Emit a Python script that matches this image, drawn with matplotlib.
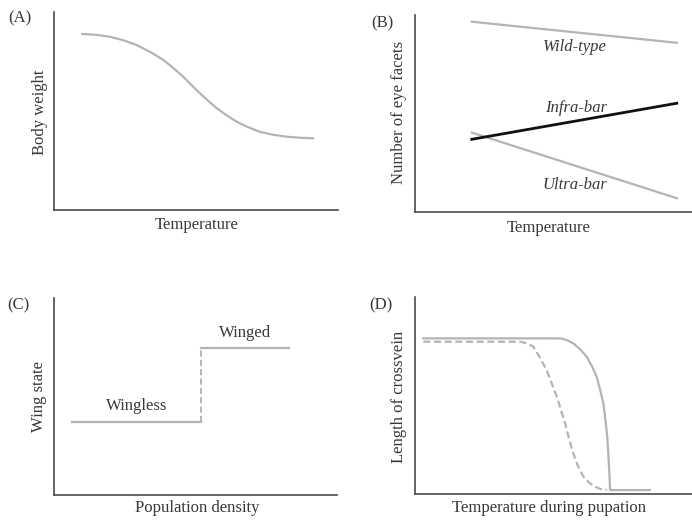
import matplotlib
matplotlib.use("Agg")
import matplotlib.pyplot as plt

W, H = 692, 520

plt.rcParams["font.family"] = ["Liberation Serif", "DejaVu Serif"]

# (A) body weight vs temperature, read in 0-100 panel units
a_temp = [9.8, 14.8, 19.7, 24.5, 29.1, 33.8, 38.5, 42.0, 45.5, 48.5, 51.4,
          54.4, 57.3, 60.8, 64.3, 68.4, 72.5, 77.2, 81.9, 86.6, 91.3]
a_weight = [88.9, 88.5, 87.5, 85.7, 83.3, 79.9, 75.8, 71.7, 67.3, 63.0, 58.9,
            55.0, 51.4, 47.8, 44.6, 41.8, 39.5, 38.0, 37.0, 36.5, 36.2]

# (B) eye facets vs temperature, straight lines (start, end)
b_temp = [20.5, 94.5]
b_wild = [96.6, 85.9]
b_infra = [36.9, 55.2]
b_ultra = [40.3, 7.0]

# (C) wing state vs population density
c_density_low = [6.3, 51.9]
c_wingless = [37.2, 37.2]
c_density_high = [51.9, 83.1]
c_winged = [74.5, 74.5]
c_switch = 51.9

# (D) crossvein length vs temperature during pupation
d_temp_solid = [3.0, 51.2, 53.0, 55.0, 57.1, 59.5, 62.0, 64.0, 65.6, 67.0,
                68.0, 68.8, 69.4, 69.8, 70.1, 70.3, 70.4, 84.8]
d_len_solid = [79.0, 79.0, 78.9, 78.0, 76.5, 73.6, 69.7, 64.5, 59.5, 52.0,
               46.0, 37.0, 29.1, 20.0, 12.2, 7.0, 2.0, 2.0]
d_temp_dash = [3.0, 37.9, 40.3, 42.7, 45.0, 47.5, 49.4, 51.2, 52.7, 54.2,
               55.6, 57.1, 58.9, 60.8, 62.8, 65.0, 67.0, 69.2]
d_len_dash = [77.3, 77.3, 76.6, 74.8, 69.5, 62.9, 56.0, 49.4, 42.5, 35.9,
              28.0, 20.7, 14.0, 8.8, 5.8, 3.7, 2.5, 2.0]

LINE = "#b4b4b4"
AXIS = "#4a4a4a"
TEXT = "#383838"
DASH = (0, (3.2, 1.6))


def add_panel(fig, left, top, right, bottom):
    ax = fig.add_axes([left / W, 1 - bottom / H, (right - left) / W, (bottom - top) / H])
    ax.set_xlim(0, 100)
    ax.set_ylim(0, 100)
    for side in ("top", "right"):
        ax.spines[side].set_visible(False)
    for side in ("left", "bottom"):
        ax.spines[side].set_color(AXIS)
        ax.spines[side].set_linewidth(1.2)
    ax.set_xticks([])
    ax.set_yticks([])
    ax.patch.set_alpha(0)
    return ax


def ftext(fig, x, y, s, **kw):
    kw.setdefault("color", TEXT)
    kw.setdefault("fontsize", 12)
    fig.text(x / W, 1 - y / H, s, **kw)


fig = plt.figure(figsize=(W / 100, H / 100), dpi=100)
fig.patch.set_facecolor("white")

# panel A
ax = add_panel(fig, 54, 12, 338, 210)
ax.plot(a_temp, a_weight, color=LINE, lw=1.6, solid_capstyle="round")
ftext(fig, 8, 18, "(A)", ha="left", va="center")
ftext(fig, 40, 112, "Body weight", rotation=90, ha="center", va="center")
ftext(fig, 197, 225, "Temperature", ha="center", va="center")

# panel B
ax = add_panel(fig, 415, 15, 692, 212)
ax.plot(b_temp, b_wild, color=LINE, lw=1.6)
ax.plot(b_temp, b_ultra, color=LINE, lw=1.6)
ax.plot(b_temp, b_infra, color="#111111", lw=2.0)
ax.text(57.8, 83.8, "Wild-type", style="italic", color=TEXT, fontsize=12, ha="center", va="center")
ax.text(58.1, 52.8, "Infra-bar", style="italic", color=TEXT, fontsize=12, ha="center", va="center")
ax.text(57.8, 13.7, "Ultra-bar", style="italic", color=TEXT, fontsize=12, ha="center", va="center")
ftext(fig, 371, 23, "(B)", ha="left", va="center")
ftext(fig, 399, 113, "Number of eye facets", rotation=90, ha="center", va="center")
ftext(fig, 549, 228, "Temperature", ha="center", va="center")

# panel C
ax = add_panel(fig, 54, 298, 337, 495)
ax.plot(c_density_low, c_wingless, color=LINE, lw=1.6)
ax.plot(c_density_high, c_winged, color=LINE, lw=1.6)
ax.plot([c_switch, c_switch], [c_wingless[-1], c_winged[0]], color=LINE, lw=1.4, ls=DASH)
ax.text(67.5, 82.2, "Winged", color=TEXT, fontsize=12, ha="center", va="center")
ax.text(29.2, 45.2, "Wingless", color=TEXT, fontsize=12, ha="center", va="center")
ftext(fig, 7, 305, "(C)", ha="left", va="center")
ftext(fig, 39, 397, "Wing state", rotation=90, ha="center", va="center")
ftext(fig, 197, 508, "Population density", ha="center", va="center")

# panel D
ax = add_panel(fig, 415, 297, 692, 494)
ax.plot(d_temp_solid, d_len_solid, color=LINE, lw=1.6)
ax.plot(d_temp_dash, d_len_dash, color=LINE, lw=1.6, ls=DASH)
ftext(fig, 369, 305, "(D)", ha="left", va="center")
ftext(fig, 399, 397, "Length of crossvein", rotation=90, ha="center", va="center")
ftext(fig, 549, 508, "Temperature during pupation", ha="center", va="center")

fig.savefig("out.png", dpi=100, facecolor="white")
